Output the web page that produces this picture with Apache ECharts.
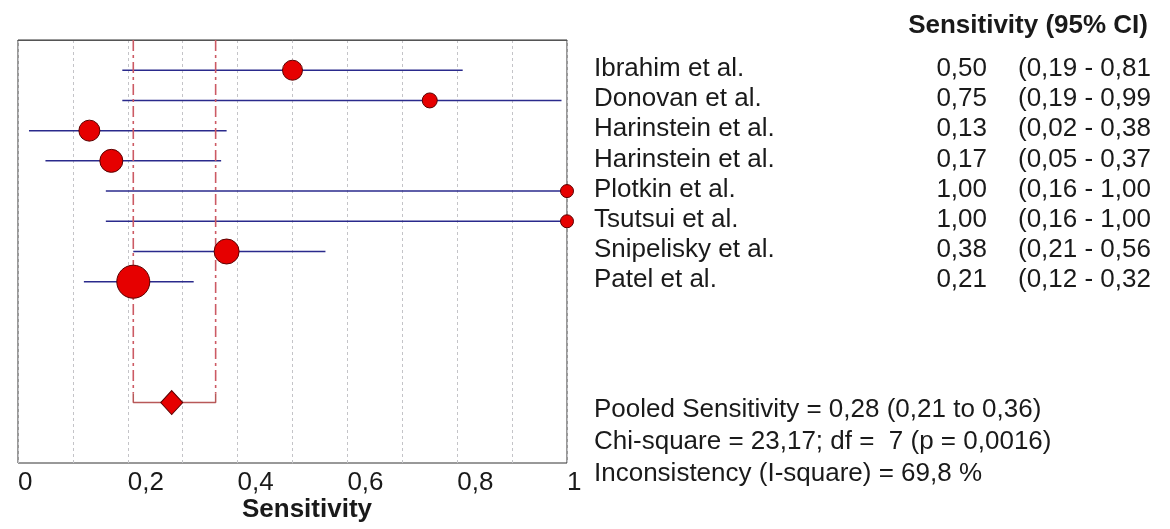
<!DOCTYPE html>
<html>
<head>
<meta charset="utf-8">
<script src="https://cdn.jsdelivr.net/npm/echarts@6/dist/echarts.min.js"></script>
<style>
  html, body { margin: 0; padding: 0; background: #fff; }
  #chart { width: 1170px; height: 529px; }
</style>
</head>
<body>
<div id="chart"></div>
<script>
// Forest plot of per-study sensitivity with 95% confidence intervals
const studies = ['Ibrahim et al.', 'Donovan et al.', 'Harinstein et al.', 'Harinstein et al.',
                 'Plotkin et al.', 'Tsutsui et al.', 'Snipelisky et al.', 'Patel et al.'];
const sensitivity = [0.50, 0.75, 0.13, 0.17, 1.00, 1.00, 0.38, 0.21];
const ciLow  = [0.19, 0.19, 0.02, 0.05, 0.16, 0.16, 0.21, 0.12];
const ciHigh = [0.81, 0.99, 0.38, 0.37, 1.00, 1.00, 0.56, 0.32];

const pooledSens = 0.28;
const pooledLow = 0.21;
const pooledHigh = 0.36;

const statsLines = [
  'Pooled Sensitivity = 0,28 (0,21 to 0,36)',
  'Chi-square = 23,17; df =  7 (p = 0,0016)',
  'Inconsistency (I-square) = 69,8 %'
];
const columnHeader = 'Sensitivity (95% CI)';
const axisTitle = 'Sensitivity';

// marker diameter per study (study weight)
const dotSize = [20, 15, 21, 23, 13, 13, 25, 33];

const FONT = '"Liberation Sans", Arial, sans-serif';
const FS = 26;
const POOLED_ROW = 12;
const fmt = v => v.toFixed(2).replace('.', ',');

const chart = echarts.init(document.getElementById('chart'), null, { renderer: 'canvas' });

const studyRows = sensitivity.map((v, i) => [v, i + 1]);
const ciRows = studies.map((s, i) => [ciLow[i], ciHigh[i], i + 1]);

const option = {
  animation: false,
  backgroundColor: '#ffffff',
  grid: {
    left: 18, right: 603, top: 40, bottom: 66,
    show: true, borderColor: '#333', borderWidth: 1, backgroundColor: 'transparent'
  },
  xAxis: {
    type: 'value', min: 0, max: 1, interval: 0.1,
    axisLine: { show: true, lineStyle: { color: '#555', width: 1 } },
    axisTick: { show: false },
    axisLabel: {
      fontFamily: FONT, fontSize: FS, color: '#1a1a1a', align: 'left', margin: 7,
      formatter: v => {
        const t = Math.round(v * 10);
        if (t % 2 !== 0) return '';
        if (t === 0) return '0';
        if (t === 10) return '1';
        return (t / 10).toFixed(1).replace('.', ',');
      }
    },
    splitLine: { show: true, lineStyle: { color: '#c4c4c8', type: [3, 3], width: 1 } }
  },
  yAxis: {
    type: 'value', min: 0, max: 14, inverse: true, show: false,
    splitLine: { show: false }
  },
  series: [
    // pooled CI guide lines (dash-dot) from the top down to the pooled row
    {
      type: 'line', silent: true, symbol: 'none',
      data: [[pooledLow, 0], [pooledLow, POOLED_ROW - 0.3]],
      lineStyle: { color: '#cc5a64', width: 1.6, type: [11, 4, 3, 4] }
    },
    {
      type: 'line', silent: true, symbol: 'none',
      data: [[pooledHigh, 0], [pooledHigh, POOLED_ROW - 0.3]],
      lineStyle: { color: '#cc5a64', width: 1.6, type: [11, 4, 3, 4] }
    },
    // pooled CI bracket
    {
      type: 'line', silent: true, symbol: 'none',
      data: [[pooledLow, POOLED_ROW - 0.3], [pooledLow, POOLED_ROW],
             [pooledHigh, POOLED_ROW], [pooledHigh, POOLED_ROW - 0.3]],
      lineStyle: { color: '#b85858', width: 1.5 }
    },
    // study confidence intervals
    {
      type: 'custom', silent: true,
      data: ciRows,
      renderItem: (params, api) => {
        const a = api.coord([api.value(0), api.value(2)]);
        const b = api.coord([api.value(1), api.value(2)]);
        return {
          type: 'line',
          shape: { x1: a[0], y1: a[1], x2: b[0], y2: b[1] },
          style: { stroke: '#2a2a8c', lineWidth: 1.5 }
        };
      }
    },
    // study point estimates
    {
      type: 'scatter', clip: false, silent: true,
      data: studyRows,
      symbol: 'circle',
      symbolSize: (val, params) => dotSize[params.dataIndex],
      itemStyle: { color: '#e60000', borderColor: '#5a0000', borderWidth: 1, opacity: 1 },
      z: 5
    },
    // pooled estimate
    {
      type: 'scatter', clip: false, silent: true,
      data: [[pooledSens, POOLED_ROW]],
      symbol: 'diamond', symbolSize: [22, 24],
      itemStyle: { color: '#e60000', borderColor: '#5a0000', borderWidth: 1, opacity: 1 },
      z: 5
    }
  ]
};

chart.setOption(option);

// text columns to the right of the plot, placed on the study rows
function rowY(r) { return chart.convertToPixel({ yAxisIndex: 0 }, r); }
function txt(x, y, text, align, bold) {
  return {
    type: 'text', x: x, y: y, silent: true,
    style: {
      text: text, fill: '#1a1a1a', font: (bold ? 'bold ' : '') + FS + 'px ' + FONT,
      textAlign: align, textVerticalAlign: 'middle'
    }
  };
}

const g = [];
g.push(txt(1148, 26, columnHeader, 'right', true));
studies.forEach((s, i) => {
  const y = rowY(i + 1) - 1.5;
  g.push(txt(594, y, s, 'left'));
  g.push(txt(987, y, fmt(sensitivity[i]), 'right'));
  g.push(txt(1018, y, '(' + fmt(ciLow[i]) + ' - ' + fmt(ciHigh[i]), 'left'));
});
statsLines.forEach((s, i) => g.push(txt(594, 410 + i * 32, s, 'left')));
g.push(txt(307, 510, axisTitle, 'center', true));

chart.setOption({ graphic: { elements: g } });
</script>
</body>
</html>
